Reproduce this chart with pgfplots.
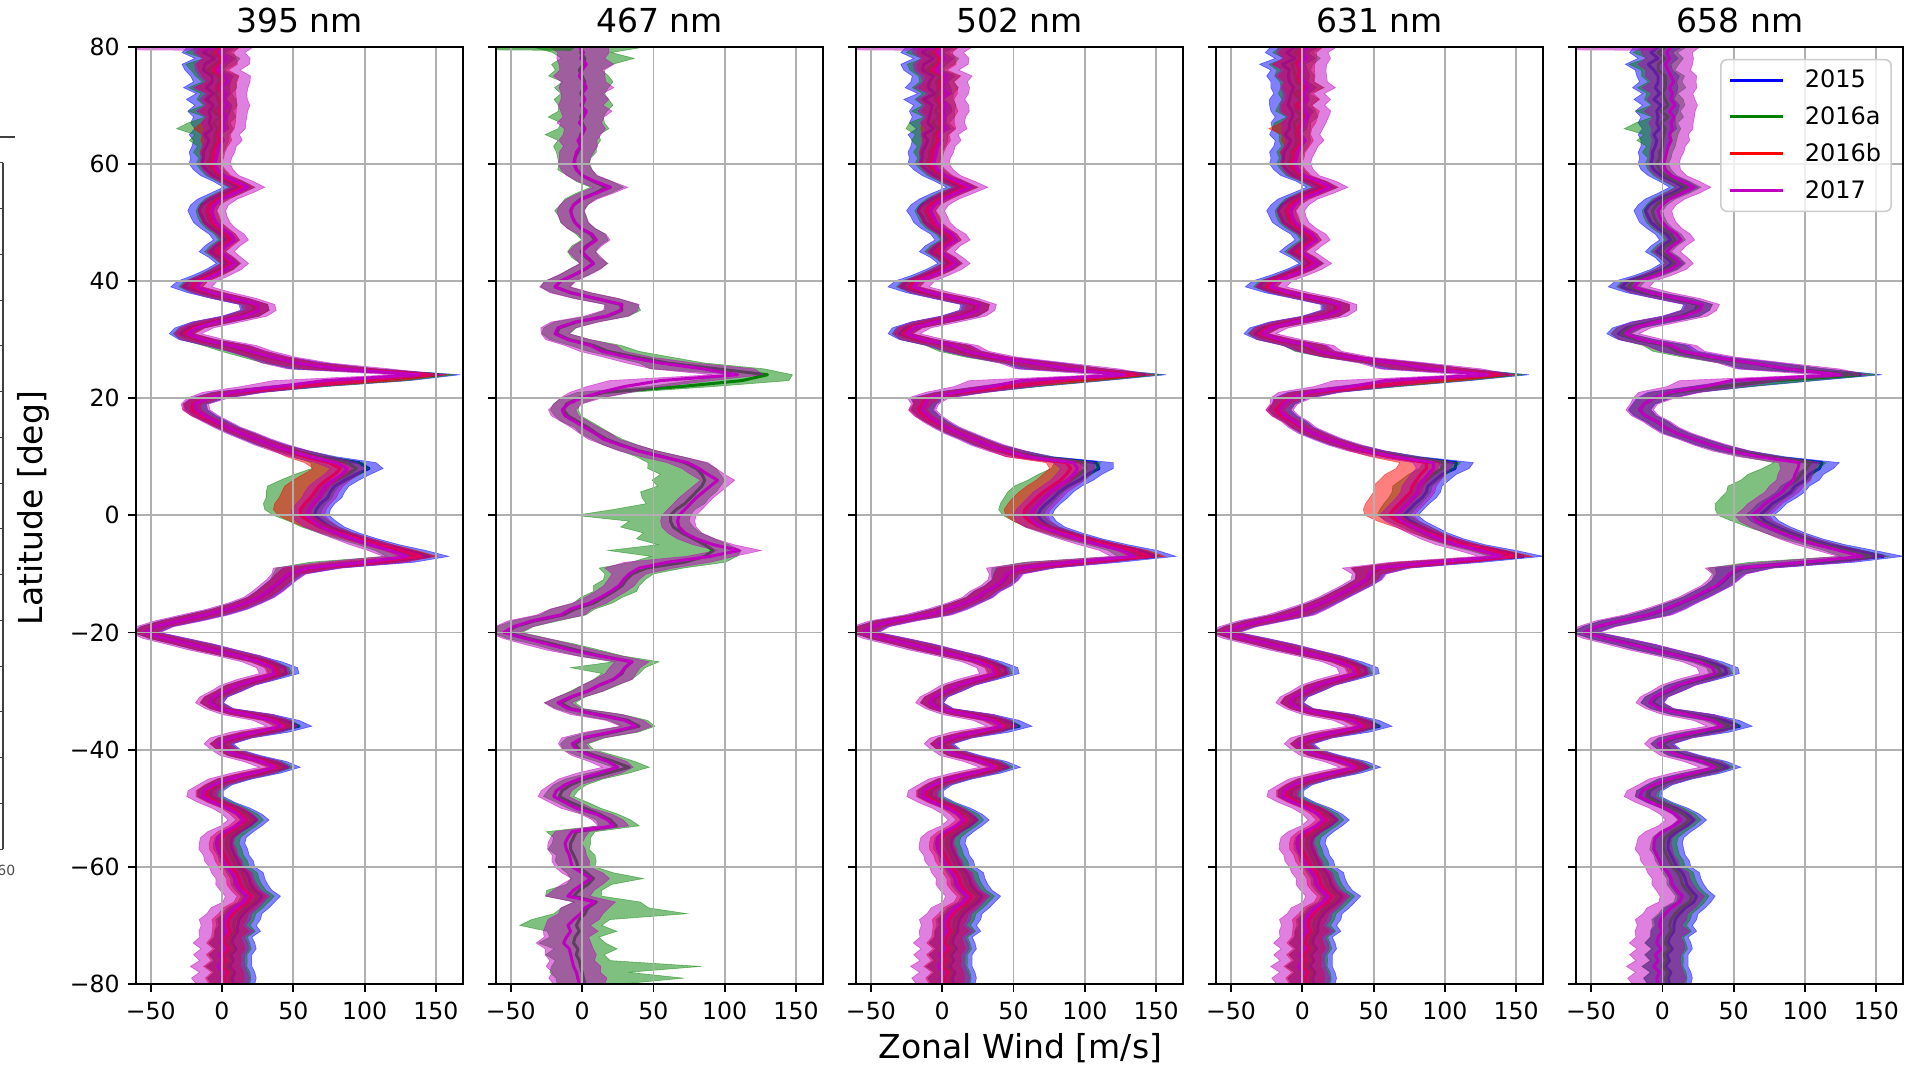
\documentclass[border=0pt]{standalone}
\usepackage{fontspec}
\setmainfont{DejaVu Sans}
\usepackage{pgfplots}
\pgfplotsset{compat=1.18}
\usepackage{pgfplotstable}

\definecolor{cB}{rgb}{0,0,1}
\definecolor{cG}{rgb}{0,0.5,0}
\definecolor{cR}{rgb}{1,0,0}
\definecolor{cM}{rgb}{0.75,0,0.75}
\definecolor{gridgray}{RGB}{176,176,176}
\definecolor{legframe}{RGB}{204,204,204}

% Zonal wind profiles (m/s) against latitude (deg).
% p1..p5 : 2017 profile for 395, 467, 502, 631, 658 nm
% g2     : 2016a profile at 467 nm
% dB dG dR : offsets of the 2015, 2016a, 2016b profiles from 2017
% w      : half width of the uncertainty band
% gl     : extra lower spread of 2016a near the equator
% gl2 gu2: extra lower / upper spread of 2016a at 467 nm
\pgfplotstableread{
lat p1 p2 p3 p4 p5 g2 dB dG dR w gl gl2 gu2
80 2 -2 1 4 6 0 -9 -4 -3 17 0 20 30
79 -2 1 -3 0 3 -1 -11 -6 -2 15 4 6 8
78 3 -1 2 3 5 2 -8 -3 -4 14 0 4 22
77 0 3 -1 -2 2 1 -12 -5 -2 16 6 8 6
76 -3 0 -4 1 4 -2 -10 -7 -3 13 0 5 4
75 2 -2 3 -1 6 0 -9 -4 -2 15 3 10 5
74 4 1 2 2 8 2 -11 -6 -4 13 0 4 8
73 -1 3 0 4 5 1 -10 -3 -2 16 5 6 3
72 3 0 4 1 7 -1 -9 -7 -3 12 0 3 6
71 1 2 -1 3 6 2 -12 -4 -2 14 2 9 4
70 4 -1 3 0 9 0 -10 -5 -4 13 0 5 10
69 0 3 1 2 5 1 -9 -6 -2 15 4 4 3
68 3 1 2 4 8 -1 -11 -4 -3 12 0 12 5
67 1 -2 0 1 6 0 -10 -7 -2 13 6 3 4
66 2 2 3 0 7 2 -9 -5 -3 12 18 8 6
65 -1 0 -2 -1 5 -1 -11 -4 -2 11 4 15 3
64 1 -3 0 2 6 -2 -10 -6 -3 11 8 5 5
63 -2 -1 -3 -1 4 -1 -9 -4 -2 10 2 10 2
62 -3 -4 -4 -3 3 -3 -10 -5 -3 10 3 6 4
61 -4 -5 -5 -4 2 -5 -9 -4 -2 9 0 4 3
60 -5 -6 -6 -5 1 -5 -9 -5 -3 9 0 3 2
59 -3 -4 -3 -3 2 -4 -8 -4 -2 9 0 5 3
58 1 0 2 1 6 0 -7 -4 -2 9 0 2 2
57 10 9 11 12 14 8 -6 -4 -3 10 0 3 4
56 18 20 20 20 22 17 -7 -4 -3 10 0 2 3
55 9 10 10 10 14 9 -7 -4 -3 10 0 4 2
54 0 0 1 0 5 -1 -8 -4 -2 9 0 3 2
53 -5 -6 -5 -5 0 -6 -9 -4 -3 8 0 2 3
52 -7 -8 -8 -8 -3 -8 -9 -4 -3 8 0 4 2
51 -6 -7 -6 -7 -2 -7 -8 -4 -2 8 0 2 3
50 -4 -5 -4 -5 0 -5 -8 -4 -3 8 0 3 2
49 0 -1 0 0 4 -1 -7 -4 -2 8 0 2 3
48 6 7 7 7 10 6 -7 -4 -3 8 0 3 3
47 9 10 10 10 13 9 -7 -4 -3 8 0 2 2
46 3 4 3 4 7 3 -7 -4 -2 8 0 3 2
45 -1 0 -1 -1 3 -1 -7 -4 -3 8 0 2 3
44 4 4 5 5 8 3 -5 -3 -2 8 0 3 2
43 9 8 10 11 12 8 -5 -3 -3 8 0 2 3
42 3 2 3 3 6 2 -5 -3 -2 9 0 3 2
41 -5 -6 -6 -7 -4 -6 -6 -3 -2 9 0 2 2
40 -14 -15 -16 -18 -16 -15 -8 -4 -3 9 0 3 2
39 -18 -19 -20 -22 -20 -19 -9 -4 -3 9 0 2 2
38 -7 -8 -8 -9 -8 -8 -5 -3 -1 12 0 2 3
37 9 10 10 10 11 10 -3 -2 -1 13 0 3 4
36 25 28 26 26 28 27 -3 -2 -1 10 0 2 3
35 26 27 25 26 26 28 -3 -2 -1 10 0 3 4
34 16 17 15 16 16 18 -3 -2 -1 13 0 2 3
33 -4 -5 -5 -6 -5 -4 -3 -2 -1 14 0 3 2
32 -18 -17 -20 -22 -20 -16 -5 -3 -2 10 0 2 3
31 -24 -19 -25 -28 -26 -18 -5 -3 -2 8 0 3 2
30 -14 -10 -14 -16 -15 -9 -3 -3 -1 13 0 2 3
29 6 6 7 4 6 8 -2 -3 0 15 3 3 6
28 20 14 17 12 14 18 -2 -4 0 13 5 2 10
27 35 32 36 32 35 38 -2 -4 0 14 4 3 12
26 52 55 64 64 63 60 0 -2 0 20 3 2 8
25 82 85 88 90 88 95 -4 0 2 30 2 20 6
24 138 109 128 130 125 130 14 12 8 15 0 6 4
23 72 55 55 58 48 112 30 30 30 30 0 8 6
22 40 30 35 35 30 70 12 12 10 22 0 4 3
21 8 13 10 5 5 16 3 3 2 18 0 3 2
20 -10 -1 -10 -8 -6 -2 0 0 -1 12 0 2 2
19 -19 -10 -12 -13 -13 -11 0 0 -2 8 0 2 2
18 -18 -14 -14 -16 -16 -13 0 0 -3 8 0 2 3
17 -12 -12 -10 -12 -12 -10 0 0 -3 8 0 2 2
16 -4 -5 -4 -5 -4 -3 0 0 -2 8 0 4 2
15 4 2 3 0 2 4 0 0 -1 8 0 2 2
14 14 9 12 8 10 10 0 0 0 9 0 3 2
13 24 15 22 18 22 17 0 0 0 9 0 2 3
12 35 27 32 30 34 28 0 0 0 10 0 4 2
11 48 39 45 45 48 40 2 2 -2 11 2 3 3
10 62 56 60 65 68 57 6 5 -4 12 6 8 3
9 80 74 92 92 96 72 16 8 -5 12 15 15 4
8 88 82 95 92 95 80 15 6 -5 10 22 25 5
7 84 88 92 88 93 84 10 4 -5 10 28 20 4
6 78 95 88 85 92 86 8 2 -5 10 30 28 5
5 73 90 82 82 87 84 6 0 -5 10 32 22 4
4 70 85 76 81 84 80 6 0 -5 10 30 30 5
3 68 80 72 78 78 76 6 0 -6 10 28 25 4
2 64 76 68 74 72 72 5 0 -6 10 26 18 5
1 61 72 64 70 68 66 5 0 -6 10 22 35 4
0 60 68 62 66 63 62 5 0 -5 10 15 58 5
-1 64 67 64 70 66 62 6 2 -3 10 10 20 4
-2 70 68 70 78 74 64 6 3 0 10 8 28 5
-3 80 72 82 86 84 70 6 3 2 10 6 18 4
-4 92 80 95 96 95 78 6 3 4 11 4 30 5
-5 104 92 110 108 108 86 8 4 6 12 2 22 6
-6 118 110 126 125 124 92 12 5 8 13 4 62 8
-7 130 90 135 140 140 86 15 6 10 14 8 25 10
-8 100 60 90 92 100 72 10 4 6 25 20 15 6
-9 60 40 55 52 54 45 3 2 2 20 6 15 8
-10 47 33 45 47 47 35 1 0 0 10 2 10 6
-11 42 29 43 45 43 31 1 0 0 9 0 8 5
-12 37 26 38 38 38 28 1 0 0 9 0 12 4
-13 32 20 30 30 30 22 1 0 0 9 0 6 8
-14 26 13 25 22 22 15 1 0 0 9 0 8 5
-15 16 5 15 13 12 8 1 0 0 10 0 5 4
-16 4 -8 4 3 2 -5 1 0 0 12 0 6 3
-17 -12 -15 -10 -8 -10 -13 1 0 0 14 0 4 3
-18 -30 -35 -34 -28 -30 -33 1 0 0 14 0 3 4
-19 -47 -48 -50 -45 -46 -47 1 0 0 11 0 3 3
-20 -54 -55 -55 -55 -55 -53 1 0 0 9 0 2 3
-21 -40 -40 -40 -40 -40 -38 2 1 0 13 0 3 2
-22 -22 -24 -22 -22 -22 -20 2 1 0 14 0 2 3
-23 -6 -8 -6 -6 -6 -4 2 1 0 14 0 3 4
-24 12 12 12 12 12 14 2 1 0 13 0 5 3
-25 26 35 26 26 26 35 6 3 2 10 0 4 10
-26 35 30 35 35 35 30 9 4 2 9 0 30 6
-27 37 27 37 37 37 28 8 4 2 9 0 6 4
-28 24 22 24 24 24 22 4 2 1 11 0 4 3
-29 11 12 11 11 11 12 2 1 0 10 0 3 4
-30 3 4 3 3 3 4 2 1 0 9 0 4 3
-31 -6 -8 -6 -6 -6 -7 2 1 0 8 0 3 2
-32 -9 -17 -9 -9 -9 -15 2 1 0 8 0 4 3
-33 -2 -10 -2 -2 -2 -8 2 1 0 8 0 3 2
-34 18 10 18 18 18 12 3 2 0 15 0 2 3
-35 35 30 35 35 35 32 8 4 2 11 0 3 4
-36 42 38 42 42 42 40 12 5 2 9 0 4 3
-37 24 20 24 24 24 22 8 4 1 15 0 3 4
-38 6 0 6 6 6 2 3 2 1 12 0 2 3
-39 -3 -7 -3 -3 -3 -5 3 2 1 8 0 3 2
-40 2 -4 2 2 2 -2 3 2 1 8 0 4 3
-41 12 6 12 12 12 9 4 2 1 11 0 3 4
-42 28 18 28 28 28 22 6 4 2 11 0 2 5
-43 37 25 37 37 37 33 9 5 2 9 0 3 6
-44 22 12 22 22 22 18 6 4 1 13 0 2 3
-45 5 -2 5 5 5 2 4 3 1 12 0 3 2
-46 -6 -12 -6 -6 -6 -8 4 3 1 9 0 4 3
-47 -13 -18 -13 -13 -14 -14 5 4 2 9 0 2 3
-48 -14 -20 -14 -14 -16 -16 6 5 3 9 0 3 2
-49 -6 -12 -6 -6 -8 -8 6 5 3 9 0 2 4
-50 4 -4 4 4 2 2 7 5 3 9 0 4 3
-51 11 10 11 11 9 12 8 6 2 9 0 3 5
-52 15 18 15 15 13 20 9 6 2 9 0 2 6
-53 10 22 10 10 8 24 9 6 2 9 0 4 8
-54 2 -7 2 2 0 -4 10 7 3 10 0 12 4
-55 -3 -10 -3 -3 -5 -6 10 7 3 10 0 5 3
-56 -4 -12 -4 -4 -6 -8 10 7 3 10 0 4 5
-57 -3 -11 -3 -3 -6 -8 10 7 3 11 0 6 3
-58 -1 -9 -1 -1 -4 -6 10 7 3 10 0 3 6
-59 1 -8 1 1 -2 -4 10 7 3 11 0 5 4
-60 3 -7 3 3 0 -3 10 7 3 10 0 4 3
-61 7 0 7 7 4 3 10 7 3 12 0 3 8
-62 9 6 9 9 6 8 10 7 3 11 0 6 25
-63 10 0 10 10 7 4 10 7 3 12 0 4 6
-64 13 -6 13 13 10 -2 10 7 3 12 0 12 5
-65 18 -10 18 18 14 -6 10 7 3 13 0 8 8
-66 15 9 15 15 12 10 10 7 3 12 0 5 20
-67 9 2 9 9 6 4 10 7 3 14 0 6 30
-68 5 -1 5 5 2 2 10 7 3 13 0 10 60
-69 2 -6 2 2 -1 -2 10 7 3 15 0 20 8
-70 1 -10 1 1 -2 -4 10 7 3 13 0 28 6
-71 3 -8 3 3 0 -2 8 6 3 16 0 8 12
-72 0 -11 0 0 -3 -5 8 6 3 13 0 6 5
-73 -1 -13 -1 -1 -4 -6 8 6 3 16 0 10 8
-74 2 -9 2 2 -1 -3 8 6 3 14 0 4 15
-75 -2 -8 -2 -2 -5 -4 8 6 3 15 0 8 6
-76 0 -7 0 0 -3 -2 8 6 3 13 0 5 10
-77 -3 -6 -3 -3 -6 -1 8 6 3 16 0 6 70
-78 1 -4 1 1 -2 0 8 6 3 14 0 10 20
-79 -1 -3 -1 -1 -4 1 8 6 3 17 0 4 55
-80 0 -2 0 0 -3 2 8 6 3 15 0 6 12
}\wind

% the same rows north to south followed by south to north, so that one
% closed outline runs down the upper edge of a band and back up its lower edge
\pgfplotstablesort[sort key=lat, sort cmp=float >]{\windloop}{\wind}
\pgfplotstablesort[sort key=lat, sort cmp=float <]{\windup}{\wind}
\pgfplotstablevertcat{\windloop}{\windup}

% one year: shaded band from centre-lower to centre+upper, then the profile
% #1 colour, #2 centre, #3 lower half width, #4 upper half width
\newcommand{\series}[4]{%
  \addplot[forget plot, fill=#1, fill opacity=0.5, draw=#1, draw opacity=0.5, line width=0.3pt]
    table[x expr={\coordindex<161 ? (#2+(#4)) : (#2-(#3))}, y=lat]{\windloop};
  \addplot[forget plot, draw=#1, line width=1.5pt, line join=round] table[x expr={#2}, y=lat]{\wind};
}

\pgfplotsset{
  panel/.style={
    scale only axis, width=163.5pt, height=468.65pt, anchor=south west,
    xmin=-60.3, xmax=169, ymin=-80, ymax=80,
    xtick={-50,0,50,100,150}, xticklabels={−50,0,50,100,150},
    ytick={-80,-60,-40,-20,0,20,40,60,80},
    grid=major, grid style={line width=0.9pt, draw=gridgray},
    axis line style={line width=1pt},
    tick style={line width=0.9pt, black},
    major tick length=4pt, tick align=outside, tick pos=left,
    axis on top,
    tick label style={font=\fontsize{11.8}{14}\selectfont},
    xticklabel style={inner sep=0pt, anchor=north, yshift=-4.85pt},
    yticklabel style={inner sep=0pt, anchor=east, xshift=-4pt},
    title style={font=\fontsize{16.5}{19}\selectfont, at={(0.5,1)}, anchor=base, yshift=0.85pt, inner sep=0pt},
  },
}

\begin{document}
\begin{tikzpicture}
\path[use as bounding box] (0,0) rectangle (960.5pt,533.5pt);

% edge of the neighbouring figure
\draw[line width=0.7pt, black!75] (1.5pt,109pt) -- (1.5pt,452pt);
\foreach \k in {0,...,15} \draw[line width=0.5pt, black!75] (0pt,109pt+\k*22.87pt) -- (1.5pt,109pt+\k*22.87pt);
\draw[line width=0.7pt, black!75] (0pt,465pt) -- (7.5pt,465pt);
\node[anchor=west, inner sep=0pt, font=\fontsize{7}{8}\selectfont, black!70] at (-1.5pt,98.5pt) {60};

% 395 nm
\begin{axis}[panel, at={(68pt,41.5pt)}, title={395 nm},
  yticklabels={−80,−60,−40,−20,0,20,40,60,80}]
\series{cB}{\thisrow{p1}+\thisrow{dB}}{\thisrow{w}}{\thisrow{w}}
\series{cG}{\thisrow{p1}+\thisrow{dG}}{0.9*\thisrow{w}+\thisrow{gl}}{0.9*\thisrow{w}}
\series{cR}{\thisrow{p1}+\thisrow{dR}}{0.8*\thisrow{w}+0.5*\thisrow{gl}}{0.8*\thisrow{w}}
\series{cM}{\thisrow{p1}}{1.2*\thisrow{w}}{1.2*\thisrow{w}}
\addplot[forget plot, fill=cM, fill opacity=0.5, draw=none] coordinates {(-62,80) (-2,80) (-6,79.3) (-62,79.4)};
\end{axis}

% 467 nm
\begin{axis}[panel, at={(248.05pt,41.5pt)}, title={467 nm}, yticklabels={}]
\series{cG}{\thisrow{g2}}{0.9*\thisrow{w}+\thisrow{gl2}}{0.9*\thisrow{w}+\thisrow{gu2}}
\series{cM}{\thisrow{p2}}{1.2*\thisrow{w}}{1.2*\thisrow{w}}
\addplot[forget plot, fill=cG, fill opacity=0.6, draw=none] coordinates {(-62,80) (-4,80) (-8,79.3) (-62,79.4)};
\end{axis}

% 502 nm
\begin{axis}[panel, at={(428.1pt,41.5pt)}, title={502 nm}, yticklabels={}]
\series{cB}{\thisrow{p3}+\thisrow{dB}}{\thisrow{w}}{\thisrow{w}}
\series{cG}{\thisrow{p3}+\thisrow{dG}}{0.9*\thisrow{w}+0.7*\thisrow{gl}}{0.9*\thisrow{w}}
\series{cR}{\thisrow{p3}+\thisrow{dR}}{0.8*\thisrow{w}+0.3*\thisrow{gl}}{0.8*\thisrow{w}}
\series{cM}{\thisrow{p3}}{1.2*\thisrow{w}}{1.2*\thisrow{w}}
\addplot[forget plot, fill=cM, fill opacity=0.5, draw=none] coordinates {(-62,80) (-2,80) (-6,79.3) (-62,79.4)};
\end{axis}

% 631 nm
\begin{axis}[panel, at={(608.15pt,41.5pt)}, title={631 nm}, yticklabels={}]
\series{cB}{\thisrow{p4}+\thisrow{dB}}{\thisrow{w}}{\thisrow{w}}
\series{cG}{\thisrow{p4}+\thisrow{dG}}{0.9*\thisrow{w}+0.3*\thisrow{gl}}{0.9*\thisrow{w}}
\series{cR}{\thisrow{p4}+\thisrow{dR}}{0.8*\thisrow{w}+0.6*\thisrow{gl}}{0.8*\thisrow{w}}
\series{cM}{\thisrow{p4}}{1.2*\thisrow{w}}{1.2*\thisrow{w}}
\end{axis}

% 658 nm
\begin{axis}[panel, at={(788.2pt,41.5pt)}, title={658 nm}, yticklabels={},
  legend cell align=left,
  legend image code/.code={\draw[#1, line width=1.5pt] (0pt,0pt) -- (26.5pt,0pt);},
  legend style={at={(0.965,0.987)}, anchor=north east, draw=legframe, line width=0.8pt,
    rounded corners=3pt, fill=white, fill opacity=0.8, text opacity=1, draw opacity=1,
    font=\fontsize{12}{14}\selectfont, inner xsep=4pt, inner ysep=4pt, row sep=6pt,
    nodes={inner sep=1pt},
    /tikz/every odd column/.append style={column sep=9pt}}]
\series{cB}{\thisrow{p5}+\thisrow{dB}}{\thisrow{w}}{\thisrow{w}}
\series{cG}{\thisrow{p5}+\thisrow{dG}}{0.9*\thisrow{w}+\thisrow{gl}}{0.9*\thisrow{w}}
\series{cM}{\thisrow{p5}}{1.2*\thisrow{w}}{1.2*\thisrow{w}}
\addplot[forget plot, fill=cM, fill opacity=0.5, draw=none] coordinates {(-62,80) (-2,80) (-6,79.3) (-62,79.4)};
\addlegendimage{cB}\addlegendentry{2015}
\addlegendimage{cG}\addlegendentry{2016a}
\addlegendimage{cR}\addlegendentry{2016b}
\addlegendimage{cM}\addlegendentry{2017}
\end{axis}

\node[rotate=90, anchor=base, inner sep=0pt, font=\fontsize{16.5}{19}\selectfont] at (21pt,279.5pt) {Latitude [deg]};
\node[anchor=base, inner sep=0pt, font=\fontsize{16.5}{19}\selectfont] at (510.25pt,4.35pt) {Zonal Wind [m/s]};
\end{tikzpicture}
\end{document}
